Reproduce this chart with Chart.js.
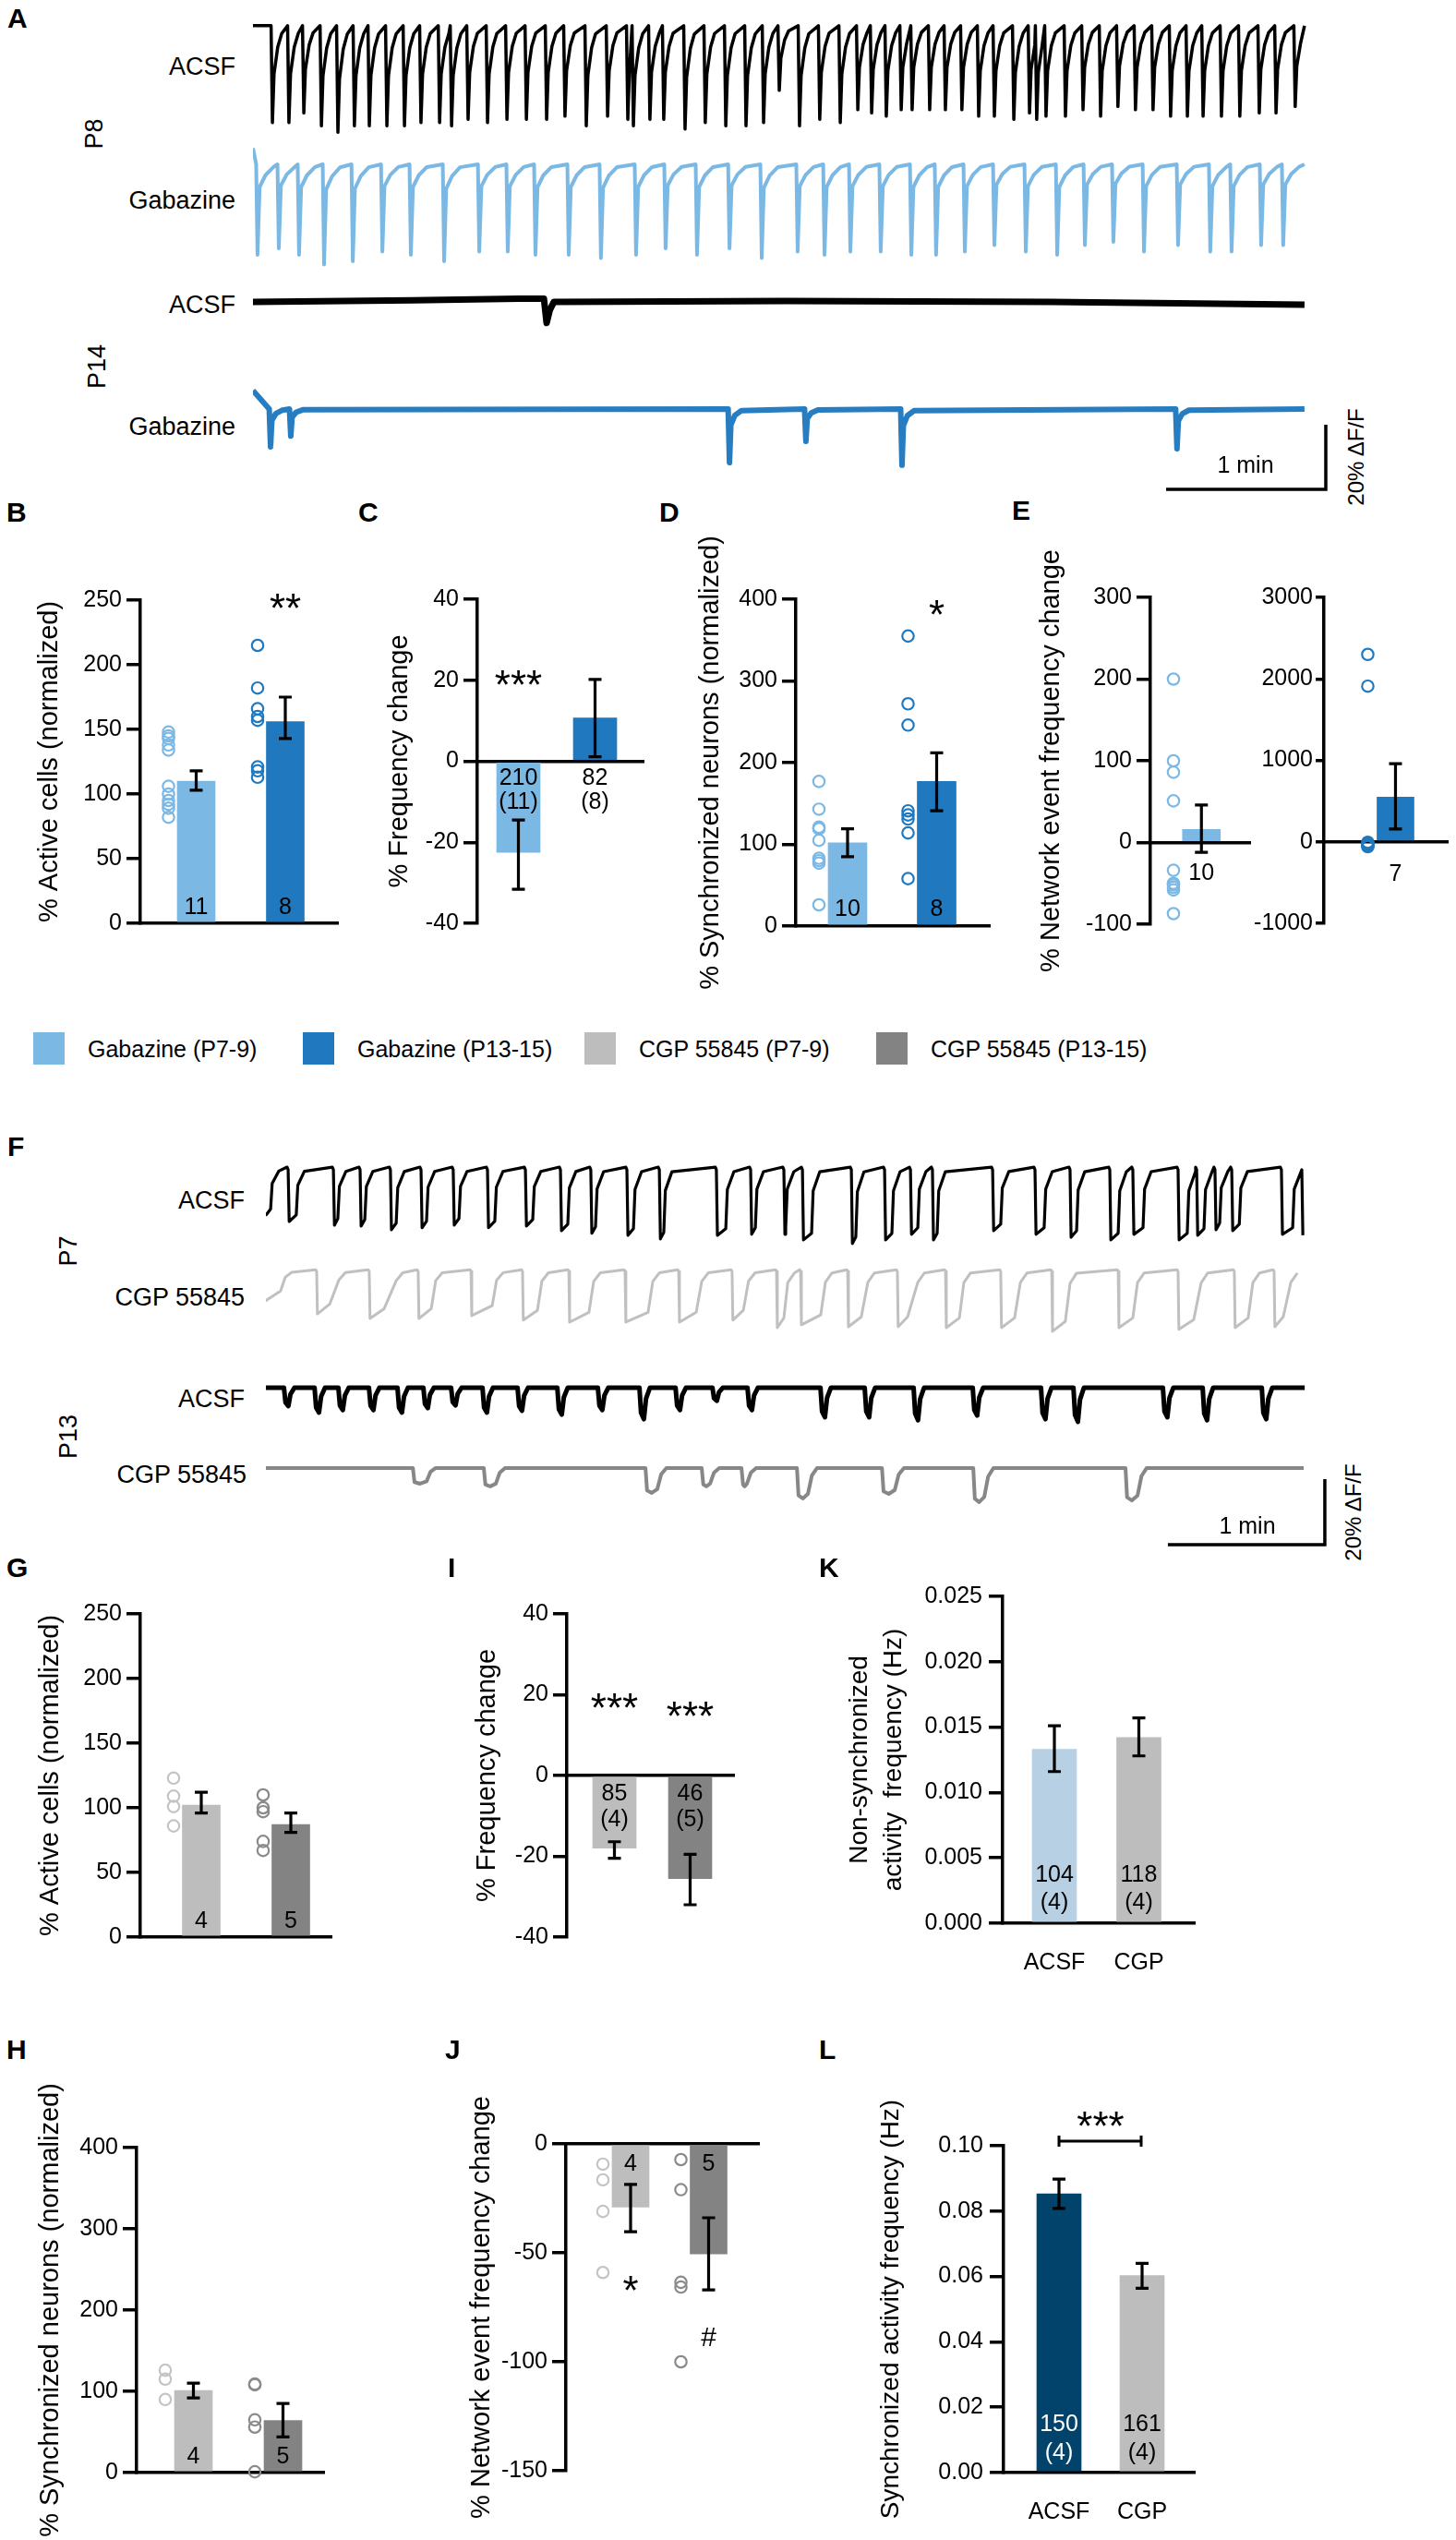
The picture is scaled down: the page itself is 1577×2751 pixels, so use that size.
<!DOCTYPE html>
<html>
<head>
<meta charset="utf-8">
<title>Gabazine / CGP 55845 calcium imaging figure</title>
<script src="https://cdn.jsdelivr.net/npm/chart.js@4.4.1/dist/chart.umd.min.js"></script>
<style>
  html, body { margin: 0; padding: 0; background: #fff; }
  body { position: relative; width: 1577px; height: 2751px; overflow: hidden;
         font-family: 'Liberation Sans', Arial, Helvetica, sans-serif; color: #000; }
  canvas { position: absolute; }
  .t { position: absolute; white-space: nowrap; line-height: 1; }
  .sw { position: absolute; width: 34px; height: 35px; }
</style>
</head>
<body>
<script>
// ---------- colours ----------
const LIGHT_BLUE = '#7cb8e4';
const DARK_BLUE = '#2079bf';
const LIGHT_GRAY = '#bdbdbd';
const DARK_GRAY = '#838383';
const PALE_BLUE = '#b7d0e3';
const NAVY = '#01436a';

const SANS = "'Liberation Sans', Arial, Helvetica, sans-serif";

// ---------- traces: event times (s) and amplitudes (% dF/F) ----------
// A, P8 ACSF: trough times and depths
const p8AcsfTimes = [7.3, 13.5, 19.1, 25.7, 31.9, 38.1, 43.7, 50.3, 56.9, 63.1, 70.1, 74.6, 80.8, 88.1, 95.4,
  102.7, 110.3, 117.2, 125.2, 133.2, 140.8, 142.9, 149.1, 154.3, 162.3, 169.9, 177.6, 185.2, 191.8, 197.7,
  205.3, 212.9, 220.6, 227.2, 232.4, 237.9, 243.5, 247.6, 254.2, 260.1, 266.3, 272.6, 278.5, 285.8, 291.7,
  294.4, 297.9, 305.2, 311.8, 318.4, 324.9, 331.5, 338.1, 344.7, 351.0, 356.9, 363.8, 370.7, 378.0, 384.3, 391.5];
const p8AcsfDepths = [30, 30, 27, 31, 33, 31, 31, 31, 31, 30, 30, 31, 29, 30, 29, 29, 29, 28, 31, 28, 29, 31, 29, 29,
  32, 30, 31, 31, 30, 20, 31, 29, 30, 26, 27, 28, 26, 26, 26, 26, 26, 28, 28, 29, 27, 29, 28, 28, 26, 28, 25, 26,
  26, 28, 28, 28, 28, 28, 27, 27, 25];
// A, P8 Gabazine
const p8GabTimes = [1.7, 9.7, 17.3, 26.7, 37.5, 48.6, 59.3, 71.8, 85.0, 95.7, 106.1, 118.6, 130.7, 143.9, 155.0,
  166.8, 179.0, 191.1, 204.6, 214.7, 224.4, 235.8, 247.3, 256.6, 267.4, 278.5, 290.3, 302.1, 312.5, 323.2,
  334.7, 347.5, 359.6, 367.6, 378.7, 387.0];
const p8GabDepths = [28, 26, 28, 31, 30, 27, 28, 30, 27, 27, 28, 28, 29, 28, 26, 28, 26, 29, 27, 28, 27, 27, 28, 28,
  27, 25, 27, 28, 25, 24, 27, 25, 27, 27, 25, 25];
// A, P14 ACSF: slow course of the (noisy) baseline
const p14AcsfT = [0, 60, 100, 109.3, 110.3, 111.5, 113, 200, 300, 395];
const p14AcsfV = [0, 0.5, 1, 1, -6.5, -2.5, 0, 0.3, 0, -0.8];
// A, P14 Gabazine
const p14GabTimes = [6.6, 14.2, 179.0, 207.7, 243.8, 347.1];
const p14GabDepths = [11.7, 8.4, 16.6, 10.0, 17.4, 12.3];

// F, P7 ACSF: fall / rise times and depths of the down states
const p7AcsfFalls = [-0.5, 8.5, 25.8, 36.0, 47.6, 59.3, 71.6, 84.7, 99.2, 112.6, 124.2, 138.0, 150.4, 172.2, 185.3,
  198.0, 205.1, 223.8, 236.5, 246.4, 254.8, 277.8, 294.0, 307.4, 322.6, 331.4, 348.7, 355.8, 362.8, 369.2, 388.2, 396.0];
const p7AcsfRises = [1.8, 11.6, 27.5, 37.8, 49.8, 61.4, 73.8, 87.5, 102.0, 115.4, 126.0, 140.5, 152.1, 175.8, 187.1,
  198.7, 208.6, 225.5, 239.3, 249.2, 256.6, 280.9, 297.5, 309.9, 325.8, 335.3, 352.2, 358.6, 364.6, 372.1, 392.5, 397.5];
const p7AcsfDepths = [14, 15.8, 16.9, 17.2, 18.3, 17.7, 16.9, 17.7, 17.2, 18.6, 19.4, 20.0, 21.1, 20.0, 19.7, 19.7,
  21.4, 22.5, 21.4, 19.7, 21.4, 18.6, 19.7, 20.6, 21.4, 19.7, 21.4, 20.0, 18.3, 18.6, 19.7, 20.0];
// F, P7 CGP 55845
const p7CgpFalls = [-0.5, 19.4, 39.5, 58.2, 78.4, 98.1, 115.8, 137.3, 157.8, 178.2, 195.2, 204.4, 222.4, 241.4, 259.8,
  280.9, 300.4, 325.8, 348.7, 370.2, 385.4];
const p7CgpRiseStart = [5.6, 24.4, 45.2, 63.2, 86.5, 103.8, 123.5, 146.1, 164.5, 182.5, 198.0, 212.1, 227.6, 245.3,
  265.1, 286.2, 305.6, 331.4, 354.7, 375.5, 388.9];
const p7CgpRiseEnd = [7.4, 27.9, 49.8, 64.9, 88.2, 105.5, 125.3, 147.9, 166.6, 184.5, 199.5, 213.9, 230.1, 249.2,
  266.8, 288.4, 307.4, 333.2, 357.5, 377.3, 391.8];
const p7CgpDepths = [9, 13.0, 14.4, 14.4, 13.5, 14.9, 15.5, 15.5, 15.5, 14.9, 17.2, 16.3, 16.9, 16.9, 17.2, 17.2,
  18.3, 17.2, 17.7, 17.2, 16.9];
// F, P13 ACSF
const p13AcsfTimes = [8.1, 19.8, 28.9, 40.6, 51.5, 61.4, 72.0, 84.0, 97.4, 112.6, 128.1, 144.0, 157.8, 171.9, 185.3,
  213.2, 230.1, 248.8, 271.4, 297.5, 309.9, 344.1, 359.3, 381.9];
const p13AcsfDepths = [5.6, 7.6, 6.8, 6.8, 7.6, 6.2, 5.4, 7.6, 7.0, 8.2, 6.8, 9.6, 6.8, 4.0, 6.8, 9.0, 9.0, 9.9, 8.5,
  9.6, 10.4, 9.0, 9.9, 9.6];
// F, P13 CGP 55845
const p13CgpStarts = [56.5, 83.6, 145.4, 166.9, 182.1, 203.3, 235.8, 270.7, 328.9];
const p13CgpEnds = [61.4, 87.9, 149.6, 169.8, 183.9, 207.2, 240.4, 274.6, 333.2];
const p13CgpDepths = [4.8, 5.6, 7.6, 5.6, 5.6, 9.3, 7.9, 10.4, 9.9];

// scale bars
const scaleSeconds = 60;
const scalePercent = 20;

// ---------- bar panels ----------
// B: % active cells (normalized)
const bMean = [110, 156];
const bLo = [103, 143];
const bHi = [118, 175];
const bDotsYoung = [148, 145, 143, 138, 134, 106, 100, 95, 92, 89, 82];
const bDotsOld = [215, 182, 166, 160, 157, 121, 118, 113];
const bN = [['11'], ['8']];
// C: % frequency change
const cMean = [-22.5, 10.7];
const cLo = [-31.6, 1.1];
const cHi = [-14.5, 20.2];
const cN = [['210', '(11)'], ['82', '(8)']];
// D: % synchronized neurons (normalized)
const dMean = [102, 177];
const dLo = [85, 141];
const dHi = [119, 212];
const dDotsYoung = [177, 143, 121, 120, 119, 105, 83, 80, 77, 26];
const dDotsOld = [355, 272, 246, 141, 136, 131, 114, 58];
const dN = [['10'], ['8']];
// E: % network event frequency change
const e1Mean = [16];
const e1Lo = [-12];
const e1Hi = [46];
const e1Dots = [200, 100, 86, 51, -34, -50, -52, -55, -58, -87];
const e1N = [['10']];
const e2Mean = [550];
const e2Lo = [158];
const e2Hi = [960];
const e2Dots = [2300, 1910, -5, -20, -35, -50, -60];
const e2N = [['7']];
// G: % active cells, CGP 55845
const gMean = [102, 87];
const gLo = [96, 81];
const gHi = [112, 96];
const gDotsYoung = [123, 109, 101, 86];
const gDotsOld = [110, 100, 97, 74, 67];
const gN = [['4'], ['5']];
// I: % frequency change, CGP 55845
const iMean = [-18, -25.5];
const iLo = [-20.5, -32];
const iHi = [-16.4, -19.5];
const iN = [['85', '(4)'], ['46', '(5)']];
// K: non-synchronized activity frequency (Hz)
const kCats = ['ACSF', 'CGP'];
const kMean = [0.0133, 0.0142];
const kLo = [0.0116, 0.0128];
const kHi = [0.0151, 0.0157];
const kN = [['104', '(4)'], ['118', '(4)']];
// H: % synchronized neurons, CGP 55845
const hMean = [101, 64];
const hLo = [92, 44];
const hHi = [110, 85];
const hDotsYoung = [126, 115, 90];
const hDotsOld = [109, 108, 65, 56, 1];
const hN = [['4'], ['5']];
// J: % network event frequency change, CGP 55845
const jMean = [-29, -50.5];
const jLo = [-40.3, -67];
const jHi = [-18.6, -33.9];
const jDotsYoung = [-9.3, -16.5, -31, -59];
const jDotsOld = [-7.2, -21, -63.5, -65.7, -100];
const jN = [['4'], ['5']];
// L: synchronized activity frequency (Hz)
const lCats = ['ACSF', 'CGP'];
const lMean = [0.0853, 0.0603];
const lLo = [0.0808, 0.0564];
const lHi = [0.0898, 0.064];
const lN = [['150', '(4)'], ['161', '(4)']];

const legendLabels = ['Gabazine (P7-9)', 'Gabazine (P13-15)', 'CGP 55845 (P7-9)', 'CGP 55845 (P13-15)'];
const legendColors = [LIGHT_BLUE, DARK_BLUE, LIGHT_GRAY, DARK_GRAY];

// ---------- helpers ----------
const AXIS_W = 3.5;
const ERR_W = 3.2;
const CAP = 7;

function addCanvas(left, top, w, h) {
  const c = document.createElement('canvas');
  c.width = w;
  c.height = h;
  c.style.left = left + 'px';
  c.style.top = top + 'px';
  c.style.width = w + 'px';
  c.style.height = h + 'px';
  document.body.appendChild(c);
  return c;
}

function label(text, x, y, o = {}) {
  const d = document.createElement('div');
  d.className = 't';
  d.textContent = text;
  d.style.fontSize = (o.size || 27) + 'px';
  if (o.bold) d.style.fontWeight = 'bold';
  d.style.left = x + 'px';
  d.style.top = y + 'px';
  const ax = o.align === 'right' ? '-100%' : o.align === 'left' ? '0' : '-50%';
  d.style.transform = 'translate(' + ax + ', -50%)' + (o.rot ? ' rotate(' + o.rot + 'deg)' : '');
  document.body.appendChild(d);
}

// trace builders
function spikeTrace(times, depths, base, recovery, tEnd, startOffset) {
  const pts = [{x: 0, y: base + startOffset}];
  times.forEach((t, i) => {
    const next = i < times.length - 1 ? times[i + 1] : tEnd;
    pts.push({x: t - 0.5, y: base});
    pts.push({x: t, y: base - depths[i]});
    recovery.forEach(([dt, f]) => {
      if (t + dt < next - 0.6) pts.push({x: t + dt, y: base - f * depths[i]});
    });
  });
  pts.push({x: tEnd, y: base});
  return pts;
}

function keyTrace(ts, vs, base) {
  return ts.map((t, i) => ({x: t, y: base + vs[i]}));
}

function squareTrace(falls, riseStart, riseEnd, depths, high, tEnd, s) {
  const pts = [];
  falls.forEach((f, i) => {
    const d = depths[i];
    const rs = riseStart[i];
    const re = riseEnd ? riseEnd[i] : rs + s.riseDur;
    const next = i < falls.length - 1 ? falls[i + 1] : tEnd + 10;
    pts.push({x: f, y: high});
    pts.push({x: f + s.fallDur, y: high - d});
    pts.push({x: rs, y: high - d + s.lowDrift});
    pts.push({x: re, y: high - s.knee * d});
    if (re + s.settle < next - 0.4) {
      pts.push({x: re + s.settle, y: high - 0.03 * d});
      pts.push({x: next - 0.4, y: high + s.preBump});
    }
  });
  return pts.filter(q => q.x <= tEnd);
}

function dipTrace(times, depths, base, tEnd) {
  const pts = [{x: 0, y: base}];
  times.forEach((t, i) => {
    const d = depths[i];
    pts.push({x: t - 1.2, y: base}, {x: t - 0.6, y: base - 0.8 * d}, {x: t + 0.5, y: base - d},
      {x: t + 1.3, y: base - 0.35 * d}, {x: t + 2.8, y: base});
  });
  pts.push({x: tEnd, y: base});
  return pts;
}

function boxTrace(starts, ends, depths, base, tEnd) {
  const pts = [{x: 0, y: base}];
  starts.forEach((s, i) => {
    const e = ends[i], d = depths[i];
    pts.push({x: s - 0.3, y: base}, {x: s + 0.3, y: base - 0.9 * d}, {x: (s + e) / 2, y: base - d},
      {x: e, y: base - 0.85 * d}, {x: e + 1.5, y: base - 0.25 * d}, {x: e + 3.5, y: base});
  });
  pts.push({x: tEnd, y: base});
  return pts;
}

function scaleBar(t0, y0) {
  return [{x: t0, y: y0}, {x: t0 + scaleSeconds, y: y0}, {x: t0 + scaleSeconds, y: y0 + scalePercent}];
}

function traceChart(c) {
  const cv = addCanvas(c.left, c.top, c.width, c.height);
  new Chart(cv, {
    type: 'line',
    data: {
      datasets: c.traces.map(t => ({
        data: t.pts, borderColor: t.color, borderWidth: t.width, pointRadius: 0,
        tension: 0, fill: false, clip: false, borderJoinStyle: t.join || 'round', borderCapStyle: 'butt'
      }))
    },
    options: {
      responsive: false, animation: false, events: [],
      layout: {padding: 0},
      plugins: {legend: {display: false}, tooltip: {enabled: false}},
      scales: {
        x: {type: 'linear', display: false, min: 0, max: c.xMax},
        y: {type: 'linear', display: false, min: 0, max: c.yMax}
      }
    }
  });
}

function extrasPlugin(p) {
  return {
    id: 'extras',
    afterDatasetsDraw(chart) {
      const ctx = chart.ctx, xs = chart.scales.x, ys = chart.scales.y;
      ctx.save();
      // error bars
      ctx.strokeStyle = '#000';
      ctx.lineWidth = ERR_W;
      ctx.lineCap = 'butt';
      p.values.forEach((v, i) => {
        const x = xs.getPixelForValue(p.barX[i]);
        const y1 = ys.getPixelForValue(p.errLo[i]);
        const y2 = ys.getPixelForValue(p.errHi[i]);
        ctx.beginPath();
        ctx.moveTo(x, y1); ctx.lineTo(x, y2);
        ctx.moveTo(x - CAP, y1); ctx.lineTo(x + CAP, y1);
        ctx.moveTo(x - CAP, y2); ctx.lineTo(x + CAP, y2);
        ctx.stroke();
      });
      // n labels
      ctx.textAlign = 'center';
      ctx.textBaseline = 'middle';
      ctx.font = p.nFont || ('25px ' + SANS);
      (p.nText || []).forEach((lines, i) => lines.forEach((s, j) => {
        ctx.fillStyle = (p.nColors && p.nColors[i]) || '#000';
        ctx.fillText(s, xs.getPixelForValue(p.barX[i]), ys.getPixelForValue(p.nY[i][j]));
      }));
      // significance marks
      (p.notes || []).forEach(n => {
        const size = n.size || 44;
        ctx.font = size + 'px ' + SANS;
        ctx.fillStyle = '#000';
        const dy = n.star ? 0.23 * size : 0;
        ctx.fillText(n.text, xs.getPixelForValue(n.x), ys.getPixelForValue(n.y) + dy);
      });
      if (p.bracket) {
        const b = p.bracket;
        const x1 = xs.getPixelForValue(b.x1), x2 = xs.getPixelForValue(b.x2), y = ys.getPixelForValue(b.y);
        ctx.lineWidth = 3;
        ctx.beginPath();
        ctx.moveTo(x1, y); ctx.lineTo(x2, y);
        ctx.moveTo(x1, y - 6); ctx.lineTo(x1, y + 6);
        ctx.moveTo(x2, y - 6); ctx.lineTo(x2, y + 6);
        ctx.stroke();
      }
      ctx.restore();
    }
  };
}

function barPanel(p) {
  const L = Math.round(p.left), T = p.top, W = Math.round(p.right - L), H = p.bottom - T;
  const cv = addCanvas(L, T, W, H);
  const datasets = [];
  (p.dots || []).forEach((vals, i) => {
    datasets.push({
      type: 'scatter',
      data: vals.map(v => ({x: p.barX[i] - p.dotOff, y: v})),
      pointRadius: 6.2, pointHoverRadius: 6.2, pointBorderWidth: 2.2,
      pointBorderColor: p.dotColors[i], pointBackgroundColor: 'rgba(255,255,255,0)',
      clip: false
    });
  });
  datasets.push({
    type: 'bar',
    data: p.values.map((v, i) => ({x: p.barX[i], y: v})),
    backgroundColor: p.colors, borderWidth: 0, barThickness: p.barW
  });
  const xScale = {
    type: 'linear', min: 0, max: p.rightX - p.axisX, offset: false,
    position: {y: 0},
    grid: {display: false, offset: false},
    border: {display: true, color: '#000', width: AXIS_W},
    ticks: {display: false}
  };
  if (p.cats) {
    xScale.afterBuildTicks = s => { s.ticks = p.barX.map(v => ({value: v})); };
    xScale.ticks = {
      display: true, autoSkip: false, maxRotation: 0, minRotation: 0, padding: 20, color: '#000',
      font: {family: SANS, size: 25}, callback: (v, i) => p.cats[i]
    };
  }
  new Chart(cv, {
    type: 'bar',
    data: {datasets},
    options: {
      responsive: false, animation: false, events: [],
      layout: {padding: {left: 0, top: p.yTop - T, right: L + W - p.rightX, bottom: T + H - p.yBot}},
      plugins: {legend: {display: false}, tooltip: {enabled: false}},
      scales: {
        x: xScale,
        y: {
          type: 'linear', min: p.yMin, max: p.yMax,
          afterFit: s => { s.width = p.axisX - L; },
          ticks: {
            stepSize: p.step, color: '#000', padding: p.tickPad === undefined ? 5 : p.tickPad,
            font: {family: SANS, size: 25},
            callback: p.fmt || (v => String(Math.round(v)))
          },
          grid: {
            display: true, drawOnChartArea: false, drawTicks: true,
            tickLength: p.tickLen || 15, tickWidth: AXIS_W, lineWidth: AXIS_W, tickColor: '#000', color: '#000'
          },
          border: {display: true, color: '#000', width: AXIS_W},
          title: p.title
            ? {display: true, text: p.title, color: '#000', padding: 0, font: p.titleFont || {family: SANS, size: 29}}
            : {display: false}
        }
      }
    },
    plugins: [extrasPlugin(p)]
  });
}

// ---------- Panel A ----------
const aPxPerMin = 173, aPxPerPct = 3.5;
const aW = 1166, aH = 535, aEnd = 395.0;
traceChart({
  left: 274, top: 0, width: aW, height: aH,
  xMax: aW * 60 / aPxPerMin, yMax: aH / aPxPerPct,
  traces: [
    {pts: spikeTrace(p8AcsfTimes, p8AcsfDepths, 144.9, [[0.6, 0.5], [2, 0.22], [3.5, 0.08]], aEnd, 0), color: '#000', width: 3.5},
    {pts: spikeTrace(p8GabTimes, p8GabDepths, 102, [[0.8, 0.25], [3, 0.12], [6, 0.03]], aEnd, 5), color: LIGHT_BLUE, width: 4},
    {pts: keyTrace(p14AcsfT, p14AcsfV, 59.4), color: '#000', width: 7},
    {pts: spikeTrace(p14GabTimes, p14GabDepths, 26.3, [[0.5, 0.3], [2, 0.12], [4.5, 0.03]], aEnd, 5.7), color: '#267dc1', width: 6},
    {pts: scaleBar(343.0, 1.43), color: '#000', width: 3.5, join: 'miter'}
  ]
});

// ---------- Panel F ----------
const fPxPerMin = 170, fPxPerPct = 3.55;
const fW = 1152, fH = 460, fEnd = 397.1;
traceChart({
  left: 288, top: 1240, width: fW, height: fH,
  xMax: fW * 60 / fPxPerMin, yMax: fH / fPxPerPct,
  traces: [
    {pts: squareTrace(p7AcsfFalls, p7AcsfRises, null, p7AcsfDepths, 122.0, fEnd,
      {fallDur: 0.4, riseDur: 0.6, knee: 0.3, settle: 2.5, lowDrift: 2, preBump: 0.8}), color: '#000', width: 3.2},
    {pts: squareTrace(p7CgpFalls, p7CgpRiseStart, p7CgpRiseEnd, p7CgpDepths, 91.0, fEnd,
      {fallDur: 0.3, knee: 0.2, settle: 2.5, lowDrift: 3, preBump: 0.5}), color: '#c0c0c0', width: 3},
    {pts: dipTrace(p13AcsfTimes, p13AcsfDepths, 55.5, fEnd), color: '#000', width: 5},
    {pts: boxTrace(p13CgpStarts, p13CgpEnds, p13CgpDepths, 31.0, 396.7), color: '#878787', width: 4},
    {pts: scaleBar(344.8, 7.6), color: '#000', width: 3.5, join: 'miter'}
  ]
});

// ---------- bar panels ----------
barPanel({
  left: 37, right: 376, top: 560, bottom: 1090,
  axisX: 152, rightX: 366, yTop: 650, yBot: 1000, yMin: 0, yMax: 250, step: 50,
  title: '% Active cells (normalized)',
  barX: [60.5, 157], barW: 41, dotOff: 30,
  colors: [LIGHT_BLUE, DARK_BLUE], dotColors: [LIGHT_BLUE, DARK_BLUE],
  values: bMean, errLo: bLo, errHi: bHi, dots: [bDotsYoung, bDotsOld],
  nText: bN, nY: [[12], [12]],
  notes: [{text: '**', x: 157, y: 249, star: true}]
});
barPanel({
  left: 416, right: 707, top: 560, bottom: 1090,
  axisX: 517, rightX: 697, yTop: 649, yBot: 1000, yMin: -40, yMax: 40, step: 20,
  title: '% Frequency change',
  barX: [44.5, 127.5], barW: 47,
  colors: [LIGHT_BLUE, DARK_BLUE],
  values: cMean, errLo: cLo, errHi: cHi,
  nText: cN, nY: [[-4.3, -10.2], [-4.3, -10.2]],
  notes: [{text: '***', x: 44.5, y: 20.5, star: true}]
});
barPanel({
  left: 753, right: 1082, top: 560, bottom: 1090,
  axisX: 862, rightX: 1072, yTop: 649, yBot: 1003, yMin: 0, yMax: 400, step: 100,
  title: '% Synchronized neurons (normalized)',
  barX: [56, 152.5], barW: 42, dotOff: 31,
  colors: [LIGHT_BLUE, DARK_BLUE], dotColors: [LIGHT_BLUE, DARK_BLUE],
  values: dMean, errLo: dLo, errHi: dHi, dots: [dDotsYoung, dDotsOld],
  nText: dN, nY: [[20], [20]],
  notes: [{text: '*', x: 152.5, y: 389, star: true}]
});
barPanel({
  left: 1122, right: 1363, top: 560, bottom: 1090,
  axisX: 1246, rightX: 1359, yTop: 647, yBot: 1001, yMin: -100, yMax: 300, step: 100,
  title: '% Network event frequency change',
  barX: [57.5], barW: 41, dotOff: 31.5,
  colors: [LIGHT_BLUE], dotColors: [LIGHT_BLUE],
  values: e1Mean, errLo: e1Lo, errHi: e1Hi, dots: [e1Dots],
  nText: e1N, nY: [[-38]]
});
barPanel({
  left: 1345, right: 1577, top: 560, bottom: 1090,
  axisX: 1434, rightX: 1573, yTop: 647, yBot: 1000, yMin: -1000, yMax: 3000, step: 1000,
  tickLen: 9, tickPad: 3,
  barX: [80], barW: 40, dotOff: 31,
  colors: [DARK_BLUE], dotColors: [DARK_BLUE],
  values: e2Mean, errLo: e2Lo, errHi: e2Hi, dots: [e2Dots],
  nText: e2N, nY: [[-396]]
});
barPanel({
  left: 38, right: 369, top: 1715, bottom: 2150,
  axisX: 152, rightX: 359, yTop: 1748, yBot: 2098, yMin: 0, yMax: 250, step: 50,
  title: '% Active cells (normalized)',
  barX: [66, 163], barW: 41, dotOff: 30,
  colors: [LIGHT_GRAY, DARK_GRAY], dotColors: ['#c4c4c4', '#8a8a8a'],
  values: gMean, errLo: gLo, errHi: gHi, dots: [gDotsYoung, gDotsOld],
  nText: gN, nY: [[12], [12]]
});
barPanel({
  left: 511, right: 805, top: 1715, bottom: 2150,
  axisX: 614, rightX: 795, yTop: 1748, yBot: 2098, yMin: -40, yMax: 40, step: 20,
  title: '% Frequency change',
  barX: [51.5, 133.5], barW: 47,
  colors: [LIGHT_GRAY, DARK_GRAY],
  values: iMean, errLo: iLo, errHi: iHi,
  nText: iN, nY: [[-4.6, -11], [-4.6, -11]],
  notes: [{text: '***', x: 51.5, y: 18.3, star: true}, {text: '***', x: 133.5, y: 16.2, star: true}]
});
barPanel({
  left: 913, right: 1304, top: 1700, bottom: 2150,
  axisX: 1086, rightX: 1294, yTop: 1729, yBot: 2083, yMin: 0, yMax: 0.025, step: 0.005,
  tickPad: 7, fmt: v => v.toFixed(3),
  title: ['Non-synchronized', 'activity  frequency (Hz)'],
  titleFont: {family: SANS, size: 28, lineHeight: 1.32},
  barX: [56, 147.5], barW: 48, cats: kCats,
  colors: [PALE_BLUE, LIGHT_GRAY],
  values: kMean, errLo: kLo, errHi: kHi,
  nText: kN, nY: [[0.00366, 0.00155], [0.00366, 0.00155]]
});
barPanel({
  left: 38, right: 361, top: 2240, bottom: 2751,
  axisX: 148, rightX: 351, yTop: 2326, yBot: 2678, yMin: 0, yMax: 400, step: 100,
  title: '% Synchronized neurons (normalized)',
  barX: [61.5, 158.5], barW: 41, dotOff: 30.5,
  colors: [LIGHT_GRAY, DARK_GRAY], dotColors: ['#c4c4c4', '#8a8a8a'],
  values: hMean, errLo: hLo, errHi: hHi, dots: [hDotsYoung, hDotsOld],
  nText: hN, nY: [[19], [19]]
});
barPanel({
  left: 505, right: 832, top: 2240, bottom: 2751,
  axisX: 613, rightX: 822, yTop: 2322, yBot: 2676, yMin: -150, yMax: 0, step: 50,
  title: '% Network event frequency change',
  barX: [70, 154.5], barW: 40, dotOff: 30,
  colors: [LIGHT_GRAY, DARK_GRAY], dotColors: ['#c4c4c4', '#8a8a8a'],
  values: jMean, errLo: jLo, errHi: jHi, dots: [jDotsYoung, jDotsOld],
  nText: jN, nY: [[-9.3], [-9.3]],
  notes: [{text: '*', x: 70, y: -64.4, star: true}, {text: '#', x: 154.5, y: -89.4, size: 30}]
});
barPanel({
  left: 948, right: 1304, top: 2240, bottom: 2751,
  axisX: 1087, rightX: 1294, yTop: 2324, yBot: 2678, yMin: 0, yMax: 0.10, step: 0.02,
  tickPad: 7, fmt: v => v.toFixed(2),
  title: 'Synchronized activity frequency (Hz)',
  titleFont: {family: SANS, size: 28},
  barX: [60, 150], barW: 48, cats: lCats,
  colors: [NAVY, LIGHT_GRAY],
  values: lMean, errLo: lLo, errHi: lHi,
  nText: lN, nY: [[0.0147, 0.0059], [0.0147, 0.0059]], nColors: ['#fff', '#000'],
  notes: [{text: '***', x: 105, y: 0.108, star: true}],
  bracket: {x1: 60, x2: 149, y: 0.1014}
});

// ---------- text ----------
const panelLetters = [['A', 8, 20], ['B', 7, 555], ['C', 388, 555], ['D', 714, 555], ['E', 1096, 553],
  ['F', 8, 1242], ['G', 7, 1698], ['I', 485, 1698], ['K', 887, 1698], ['H', 7, 2220], ['J', 482, 2220], ['L', 887, 2220]];
panelLetters.forEach(([s, x, y]) => label(s, x, y, {size: 30, bold: true, align: 'left'}));

label('ACSF', 255, 72, {align: 'right'});
label('Gabazine', 255, 217, {align: 'right'});
label('ACSF', 255, 330, {align: 'right'});
label('Gabazine', 255, 462, {align: 'right'});
label('P8', 102, 145, {rot: -90});
label('P14', 105, 397, {rot: -90});
label('1 min', 1349, 503, {size: 25});
label('20% \u0394F/F', 1469, 495, {size: 24, rot: -90});

label('ACSF', 265, 1300, {align: 'right'});
label('CGP 55845', 265, 1405, {align: 'right'});
label('ACSF', 265, 1515, {align: 'right'});
label('CGP 55845', 267, 1597, {align: 'right'});
label('P7', 74, 1355, {rot: -90});
label('P13', 74, 1556, {rot: -90});
label('1 min', 1351, 1652, {size: 25});
label('20% \u0394F/F', 1466, 1638, {size: 24, rot: -90});

// legend
const legendX = [36, 328, 633, 949];
legendLabels.forEach((s, i) => {
  const sw = document.createElement('div');
  sw.className = 'sw';
  sw.style.left = legendX[i] + 'px';
  sw.style.top = '1118px';
  sw.style.background = legendColors[i];
  document.body.appendChild(sw);
  label(s, legendX[i] + 59, 1136, {size: 25, align: 'left'});
});
</script>
</body>
</html>
